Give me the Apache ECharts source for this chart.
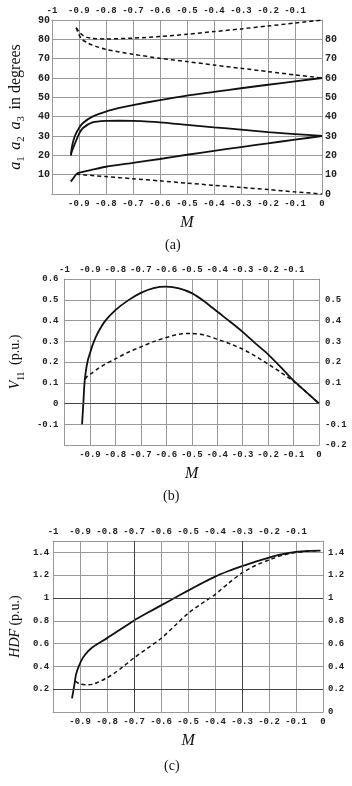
<!DOCTYPE html>
<html>
<head>
<meta charset="utf-8">
<script src="https://cdn.jsdelivr.net/npm/echarts@6/dist/echarts.min.js"></script>
<style>
html, body { margin: 0; padding: 0; background: #fff; }
#main { width: 352px; height: 786px; }
</style>
</head>
<body>
<div id="main"></div>
<script>
// ---- (a) angles a1 a2 a3 (degrees) ----
const aSolid1M = [-0.93, -0.925, -0.915, -0.9, -0.886, -0.85, -0.8, -0.75, -0.7, -0.6, -0.5, -0.4, -0.3, -0.2, -0.1, 0];
const aSolid1 = [20, 25, 30, 34, 36.6, 40, 42.6, 44.5, 46, 48.6, 50.9, 52.8, 54.7, 56.5, 58.3, 60];
const aSolid2M = [-0.93, -0.925, -0.915, -0.9, -0.886, -0.85, -0.8, -0.75, -0.7, -0.6, -0.5, -0.4, -0.3, -0.2, -0.1, 0];
const aSolid2 = [20, 22.5, 26, 31, 34, 37, 37.8, 37.9, 37.8, 37.1, 35.8, 34.5, 33.3, 32.0, 31.0, 30];
const aSolid3M = [-0.93, -0.92, -0.91, -0.9, -0.85, -0.8, -0.7, -0.6, -0.5, -0.4, -0.3, -0.2, -0.1, 0];
const aSolid3 = [6.4, 8.3, 10.2, 11, 12.6, 14.1, 16.1, 18.1, 20.3, 22.3, 24.3, 26.2, 28.1, 30];
const aDash1M = [-0.91, -0.9, -0.885, -0.87, -0.85, -0.8, -0.7, -0.6, -0.5, -0.4, -0.3, -0.2, -0.1, 0];
const aDash1 = [86, 84, 82, 81, 80.5, 80.2, 80.6, 81.5, 82.6, 84, 85.4, 86.9, 88.4, 90];
const aDash2M = [-0.91, -0.9, -0.89, -0.87, -0.85, -0.8, -0.7, -0.6, -0.5, -0.4, -0.3, -0.2, -0.1, 0];
const aDash2 = [86, 82.5, 80.2, 78.3, 77, 74.8, 72.3, 70.2, 68.5, 66.7, 65, 63.3, 61.6, 60];
const aDash3M = [-0.91, -0.8, -0.7, -0.6, -0.5, -0.4, -0.3, -0.2, -0.1, 0];
const aDash3 = [10.2, 9, 7.9, 6.8, 5.6, 4.5, 3.4, 2.3, 1.1, 0];

// ---- (b) V11 (p.u.) ----
const bSolidM = [-0.931, -0.926, -0.922, -0.916, -0.908, -0.9, -0.89, -0.878, -0.86, -0.84, -0.8, -0.75, -0.7, -0.65, -0.6, -0.55, -0.5, -0.45, -0.4, -0.35, -0.3, -0.25, -0.2, -0.15, -0.1, -0.05, 0];
const bSolid = [-0.1, 0.0, 0.09, 0.157, 0.21, 0.242, 0.28, 0.318, 0.36, 0.398, 0.45, 0.497, 0.533, 0.556, 0.563, 0.555, 0.532, 0.492, 0.443, 0.395, 0.345, 0.29, 0.237, 0.175, 0.11, 0.055, 0];
const bDashM = [-0.919, -0.91, -0.891, -0.87, -0.841, -0.8, -0.75, -0.7, -0.65, -0.6, -0.55, -0.5, -0.45, -0.4, -0.35, -0.3, -0.25, -0.2, -0.15, -0.1, -0.05, 0];
const bDash = [0.118, 0.132, 0.148, 0.167, 0.189, 0.215, 0.247, 0.273, 0.298, 0.318, 0.334, 0.338, 0.33, 0.31, 0.288, 0.262, 0.228, 0.19, 0.15, 0.107, 0.055, 0];

// ---- (c) HDF (p.u.) ----
const cSolidM = [-0.93, -0.921, -0.915, -0.905, -0.89, -0.87, -0.85, -0.8, -0.75, -0.7, -0.65, -0.6, -0.55, -0.5, -0.45, -0.4, -0.35, -0.3, -0.25, -0.2, -0.15, -0.1, -0.05, -0.01];
const cSolid = [0.12, 0.24, 0.33, 0.4, 0.475, 0.535, 0.575, 0.648, 0.725, 0.803, 0.87, 0.935, 1.0, 1.065, 1.128, 1.188, 1.237, 1.28, 1.32, 1.355, 1.385, 1.405, 1.414, 1.416];
const cDashM = [-0.918, -0.9, -0.87, -0.85, -0.8, -0.75, -0.7, -0.65, -0.6, -0.55, -0.5, -0.45, -0.4, -0.35, -0.3, -0.25, -0.2, -0.15, -0.1, -0.05, -0.01];
const cDash = [0.27, 0.245, 0.238, 0.245, 0.30, 0.38, 0.475, 0.56, 0.645, 0.755, 0.865, 0.95, 1.03, 1.13, 1.22, 1.285, 1.335, 1.375, 1.40, 1.412, 1.415];

// tick labels shown on each side of the frames
const xTopTicks = [-1, -0.9, -0.8, -0.7, -0.6, -0.5, -0.4, -0.3, -0.2, -0.1];
const xBottomTicks = [-0.9, -0.8, -0.7, -0.6, -0.5, -0.4, -0.3, -0.2, -0.1, 0];
const aLeftTicks = [10, 20, 30, 40, 50, 60, 70, 80, 90];
const aRightTicks = [0, 10, 20, 30, 40, 50, 60, 70, 80];
const bLeftTicks = [-0.1, 0, 0.1, 0.2, 0.3, 0.4, 0.5, 0.6];
const bRightTicks = [-0.2, -0.1, 0, 0.1, 0.2, 0.3, 0.4, 0.5];
const cLeftTicks = [0.2, 0.4, 0.6, 0.8, 1, 1.2, 1.4];
const cRightTicks = [0, 0.2, 0.4, 0.6, 0.8, 1, 1.2, 1.4];

// darker reference lines
const bDarkY = [0];
const cDarkY = [0.2, 1];
const cDarkX = [-0.7, -0.3];

const zip = (xs, ys) => xs.map((x, i) => [x, ys[i]]);
const r2 = v => Math.round(v * 100) / 100;
const pick = list => v => (list.indexOf(r2(v)) >= 0 ? String(r2(v)) : '');

const gridCol = '#999';
const tickFont = { fontFamily: 'Liberation Mono', fontWeight: 'bold', fontSize: 9, color: '#222' };

const grids = [
  { left: 41, right: 30, top: 20, height: 174 },
  { left: 55, right: 33, top: 279, height: 166 },
  { left: 48.5, right: 29, top: 541, height: 171 }
];

const xAxes = [];
const yAxes = [];
const yCfg = [
  { min: 0, max: 90, interval: 10, left: aLeftTicks, right: aRightTicks, lm: 2, rm: 3, fs: 10 },
  { min: -0.2, max: 0.6, interval: 0.1, left: bLeftTicks, right: bRightTicks, lm: 6, rm: 6, fs: 9 },
  { min: 0, max: 1.5, interval: 0.2, left: cLeftTicks, right: cRightTicks, lm: 4, rm: 5, fs: 9 }
];
const yNames = [
  { text: '{i|a}{s|1}  {i|a}{s|2}  {i|a}{s|3}  {n|in degrees}', gap: 19, fs: 16 },
  { text: '{i|V}{s|11}  {n|(p.u.)}', gap: 27, fs: 14 },
  { text: '{i|HDF} {n|(p.u.)}', gap: 26, fs: 14 }
];

grids.forEach((g, k) => {
  xAxes.push({
    gridIndex: k, type: 'value', position: 'bottom', min: -1, max: 0, interval: 0.1,
    axisLine: { onZero: false, lineStyle: { color: gridCol } },
    axisTick: { show: false },
    splitLine: { show: true, lineStyle: { color: gridCol, width: 1 } },
    axisLabel: Object.assign({ margin: 5, formatter: pick(xBottomTicks) }, tickFont),
    name: 'M', nameLocation: 'middle', nameGap: 21,
    nameTextStyle: { fontFamily: 'Liberation Serif', fontStyle: 'italic', fontSize: 16, color: '#111' }
  });
  xAxes.push({
    gridIndex: k, type: 'value', position: 'top', min: -1, max: 0, interval: 0.1,
    axisLine: { onZero: false, lineStyle: { color: gridCol } },
    axisTick: { show: false },
    splitLine: { show: false },
    axisLabel: Object.assign({ margin: 5, formatter: pick(xTopTicks) }, tickFont)
  });
  const c = yCfg[k];
  const nm = yNames[k];
  yAxes.push({
    gridIndex: k, type: 'value', position: 'left', min: c.min, max: c.max, interval: c.interval,
    axisLine: { onZero: false, lineStyle: { color: gridCol } },
    axisTick: { show: false },
    splitLine: { show: true, lineStyle: { color: gridCol, width: 1 } },
    axisLabel: Object.assign({}, tickFont, { margin: c.lm, fontSize: c.fs, formatter: pick(c.left) }),
    name: nm.text, nameLocation: 'middle', nameGap: nm.gap, nameRotate: 90,
    nameTextStyle: {
      color: '#111',
      rich: {
        i: { fontFamily: 'Liberation Serif', fontStyle: 'italic', fontSize: nm.fs, lineHeight: 22, verticalAlign: 'middle', color: '#111' },
        s: { fontFamily: 'Liberation Serif', fontSize: nm.fs * 0.68, lineHeight: 12, verticalAlign: 'bottom', color: '#111' },
        n: { fontFamily: 'Liberation Serif', fontSize: nm.fs, lineHeight: 22, verticalAlign: 'middle', color: '#111' }
      }
    }
  });
  yAxes.push({
    gridIndex: k, type: 'value', position: 'right', min: c.min, max: c.max, interval: c.interval,
    axisLine: { onZero: false, lineStyle: { color: gridCol } },
    axisTick: { show: false },
    splitLine: { show: false },
    axisLabel: Object.assign({}, tickFont, { margin: c.rm, fontSize: c.fs, formatter: pick(c.right) })
  });
});

const solid = { color: '#111', width: 1.8 };
const dashed = { color: '#111', width: 1.5, type: [4, 3] };
const line = (k, xs, ys, style, extra) => Object.assign({
  type: 'line', xAxisIndex: 2 * k, yAxisIndex: 2 * k,
  data: zip(xs, ys), showSymbol: false, smooth: 0.25,
  lineStyle: style, animation: false, silent: true
}, extra || {});
const darkLines = list => ({
  silent: true, symbol: ['none', 'none'], label: { show: false },
  lineStyle: { color: '#444', width: 1, type: 'solid' },
  data: list
});

const series = [
  line(0, aSolid1M, aSolid1, solid),
  line(0, aSolid2M, aSolid2, solid),
  line(0, aSolid3M, aSolid3, solid),
  line(0, aDash1M, aDash1, dashed),
  line(0, aDash2M, aDash2, dashed),
  line(0, aDash3M, aDash3, dashed),
  line(1, bSolidM, bSolid, solid, { markLine: darkLines(bDarkY.map(v => ({ yAxis: v }))) }),
  line(1, bDashM, bDash, dashed),
  line(2, cSolidM, cSolid, solid, {
    markLine: darkLines(cDarkY.map(v => ({ yAxis: v })).concat(cDarkX.map(v => ({ xAxis: v }))))
  }),
  line(2, cDashM, cDash, dashed)
];

const capStyle = { fontFamily: 'Liberation Serif', fontSize: 14, fill: '#111', textAlign: 'center', textVerticalAlign: 'middle' };
const chart = echarts.init(document.getElementById('main'));
chart.setOption({
  animation: false,
  backgroundColor: '#fff',
  grid: grids,
  xAxis: xAxes,
  yAxis: yAxes,
  series: series,
  graphic: [
    { type: 'text', left: 165, top: 238, style: Object.assign({ text: '(a)' }, capStyle) },
    { type: 'text', left: 163, top: 489, style: Object.assign({ text: '(b)' }, capStyle) },
    { type: 'text', left: 164, top: 759, style: Object.assign({ text: '(c)' }, capStyle) }
  ]
});
</script>
</body>
</html>
